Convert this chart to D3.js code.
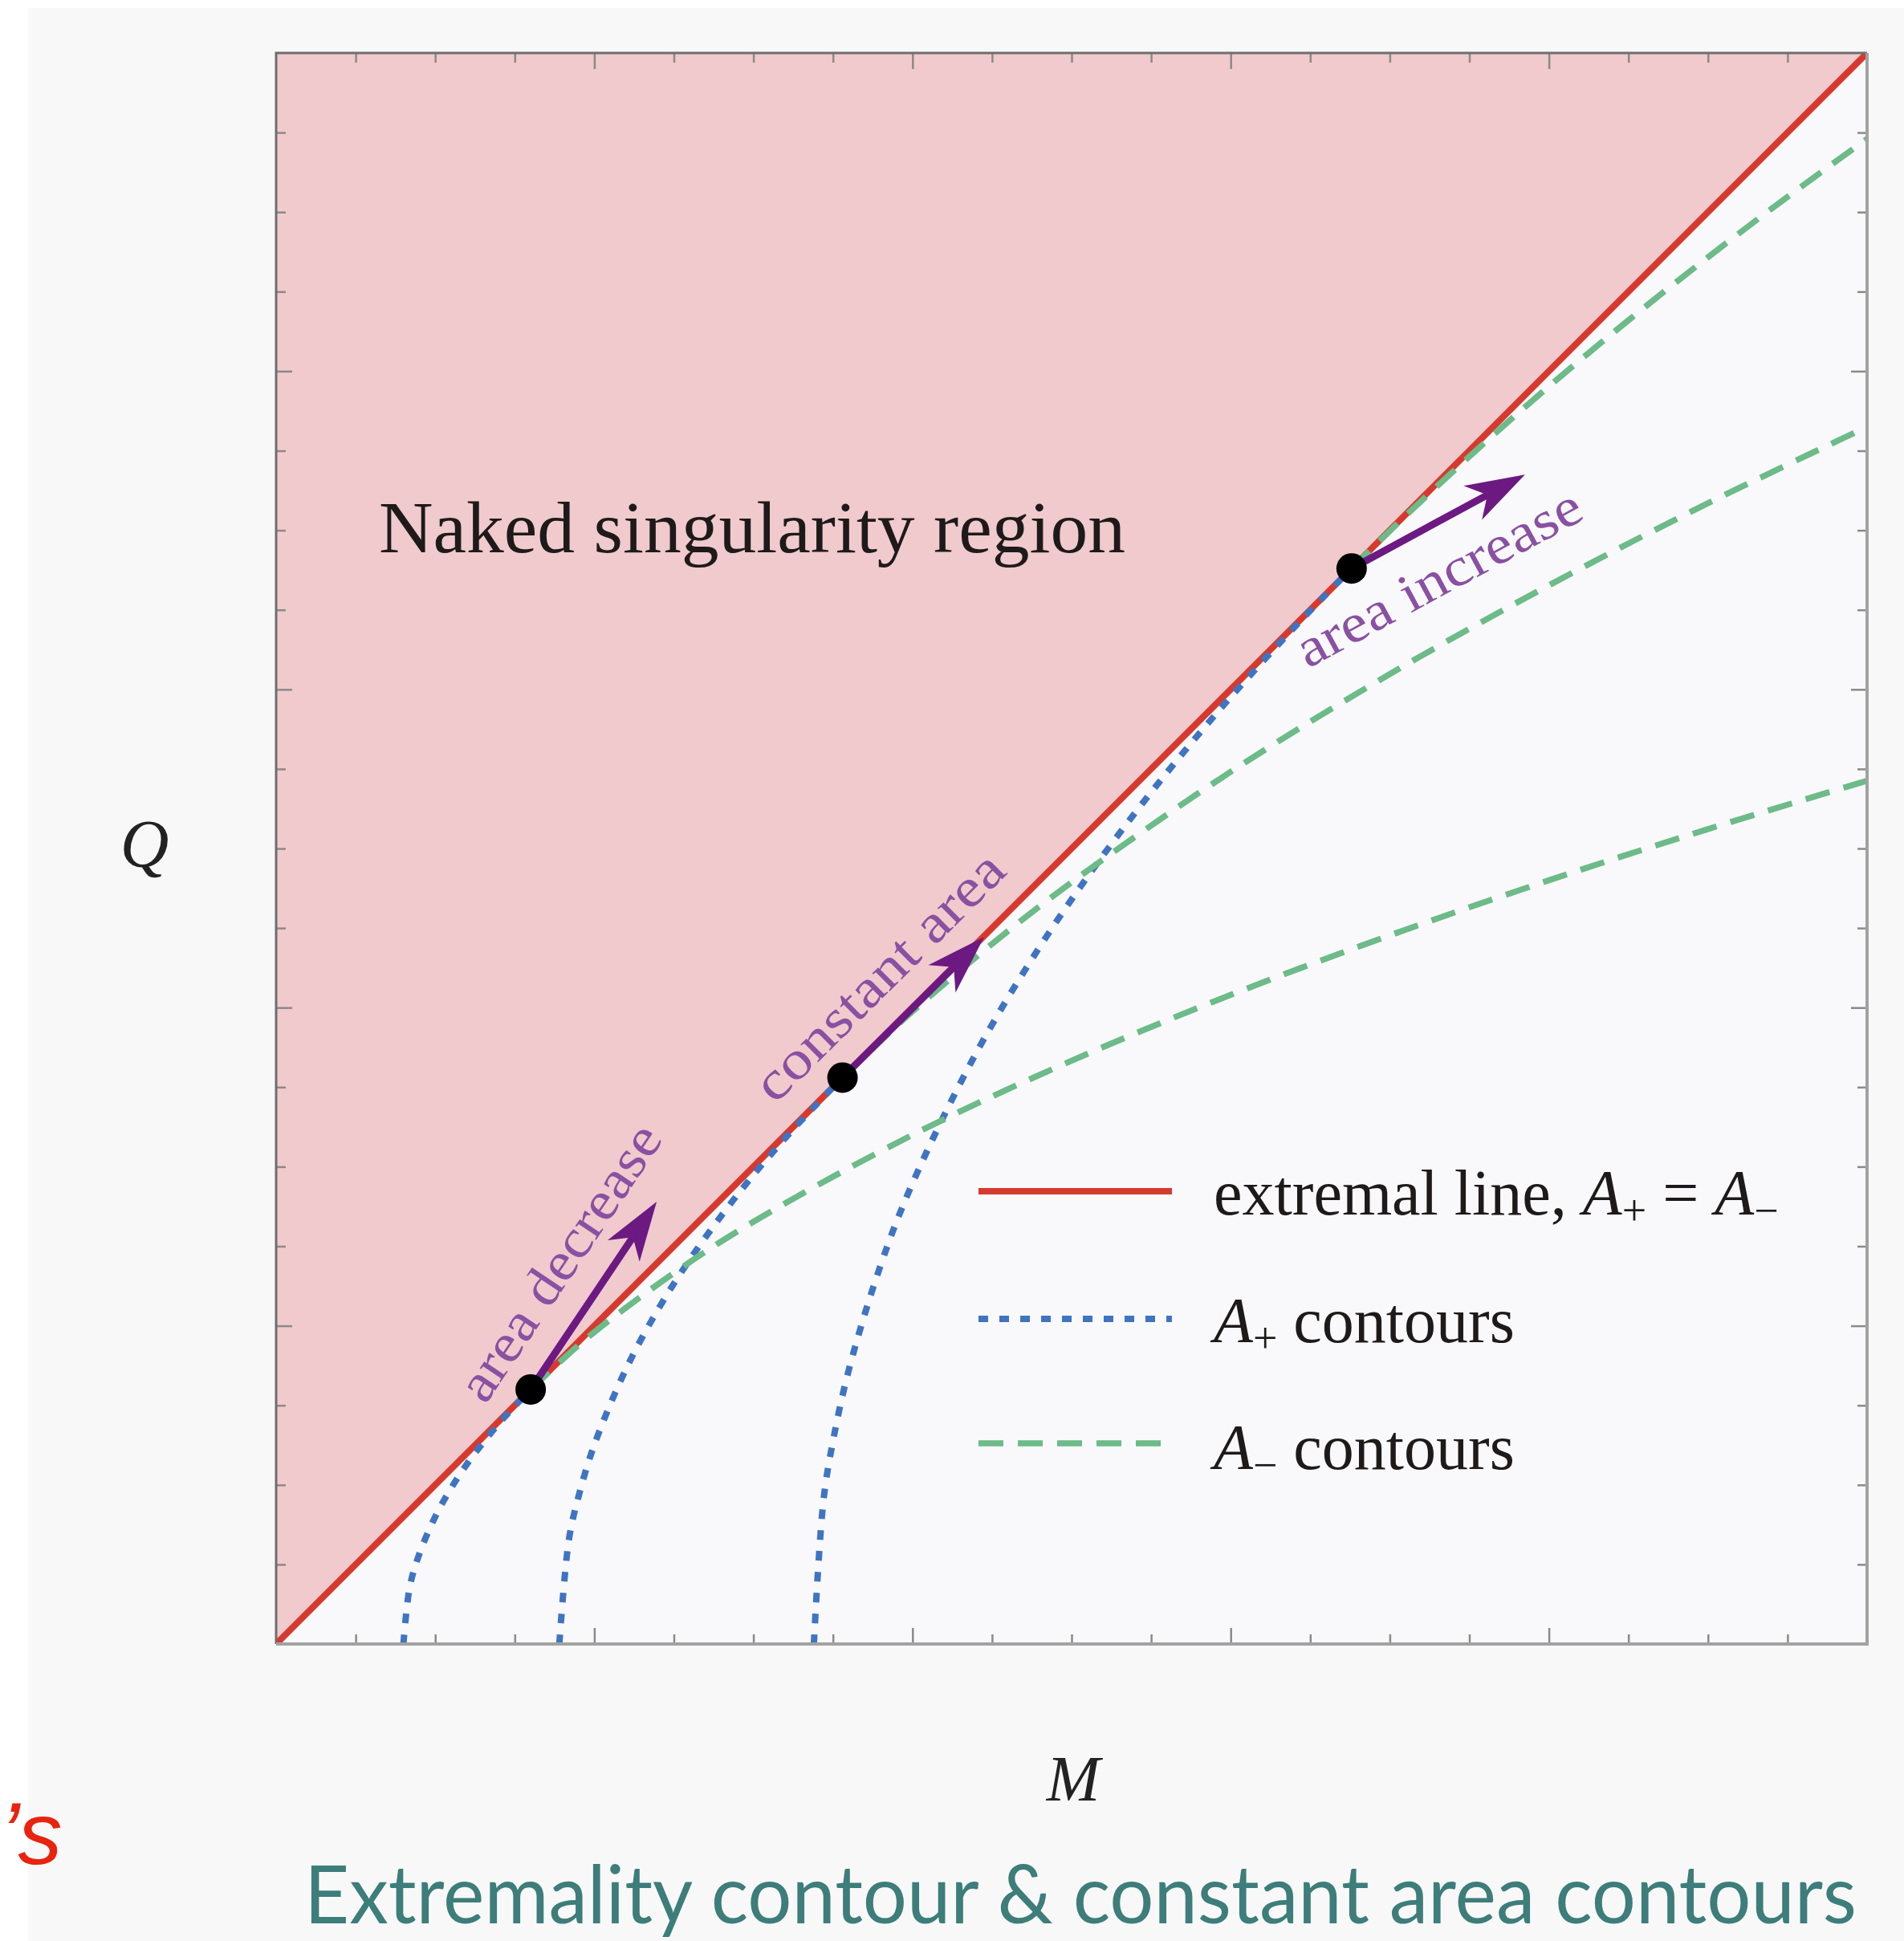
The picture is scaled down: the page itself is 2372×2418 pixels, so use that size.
<!DOCTYPE html>
<html>
<head>
<meta charset="utf-8">
<script src="https://cdn.jsdelivr.net/npm/d3@7"></script>
<style>
  body { margin: 0; background: #ffffff; }
</style>
</head>
<body>
<script>
// Data, (M, Q) in plot units
let extremal = [[0, 0], [5, 5]];

let aPlusContours = [
  [[0.400, 0], [0.420, 0.179], [0.450, 0.283], [0.500, 0.400], [0.550, 0.490], [0.600, 0.566],
   [0.650, 0.632], [0.700, 0.693], [0.750, 0.748], [0.800, 0.800]],
  [[0.890, 0], [0.920, 0.327], [0.950, 0.462], [1.000, 0.626], [1.100, 0.865], [1.200, 1.051],
   [1.300, 1.208], [1.400, 1.347], [1.500, 1.474], [1.600, 1.590], [1.700, 1.698], [1.780, 1.780]],
  [[1.690, 0], [1.720, 0.450], [1.750, 0.637], [1.800, 0.862], [1.900, 1.191], [2.000, 1.448],
   [2.200, 1.857], [2.400, 2.191], [2.600, 2.480], [2.800, 2.739], [3.000, 2.976], [3.200, 3.195],
   [3.300, 3.299], [3.380, 3.380]]
];

let aMinusContours = [
  [[0.800, 0.800], [0.900, 0.894], [1.000, 0.980], [1.250, 1.166], [1.500, 1.327], [2.000, 1.600],
   [2.500, 1.833], [3.000, 2.040], [3.500, 2.227], [4.000, 2.400], [4.500, 2.561], [5.000, 2.713]],
  [[1.780, 1.780], [1.900, 1.896], [2.000, 1.988], [2.250, 2.200], [2.500, 2.394], [3.000, 2.741],
   [3.500, 3.048], [4.000, 3.327], [4.500, 3.585], [5.000, 3.825]],
  [[3.380, 3.380], [3.500, 3.498], [3.600, 3.593], [3.800, 3.777], [4.000, 3.952], [4.250, 4.160],
   [4.500, 4.358], [4.750, 4.548], [5.000, 4.730]]
];

let dotM = [0.80, 1.78, 3.38];
let dotQ = [0.80, 1.78, 3.38];
let tipM = [1.196, 2.225, 3.925];
let tipQ = [1.390, 2.222, 3.675];
let arrowLabels = ["area decrease", "constant area", "area increase"];

let majorTicks = [1, 2, 3, 4];
let minorTicks = [0.25, 0.5, 0.75, 1.25, 1.5, 1.75, 2.25, 2.5, 2.75, 3.25, 3.5, 3.75, 4.25, 4.5, 4.75];

// Stage
let width = 2372;
let height = 2418;

let svg = d3.select("body")
            .append("svg")
            .attr("width", width)
            .attr("height", height);

// Colours
let page_color = "#f8f8f8";
let plot_bg_color = "#f9f9fb";
let naked_color = "#f0cacd";
let red_color = "#d63a2e";
let blue_color = "#3f74c2";
let green_color = "#6cbb88";
let arrow_color = "#6c1a82";
let label_color = "#8a50a2";
let frame_dark = "#6e6e6e";
let frame_light = "#a2a2a2";
let serif = "'Liberation Serif', 'DejaVu Serif', serif";

let blue_dash = "12,14";
let green_dash = "31,18";

svg.append("rect")
   .attr("x", 35).attr("y", 10)
   .attr("width", width - 35).attr("height", height - 10)
   .attr("fill", page_color);

// Scales
let plotLeft = 344, plotRight = 2326, plotTop = 66, plotBottom = 2048;
let x = d3.scaleLinear().domain([0, 5]).range([plotLeft, plotRight]);
let y = d3.scaleLinear().domain([0, 5]).range([plotBottom, plotTop]);

svg.append("defs").append("clipPath")
   .attr("id", "plotclip")
   .append("rect")
   .attr("x", plotLeft).attr("y", plotTop)
   .attr("width", plotRight - plotLeft).attr("height", plotBottom - plotTop);

let plot = svg.append("g").attr("clip-path", "url(#plotclip)");

plot.append("rect")
    .attr("x", plotLeft).attr("y", plotTop)
    .attr("width", plotRight - plotLeft).attr("height", plotBottom - plotTop)
    .attr("fill", plot_bg_color);

// Naked singularity region (above Q = M)
let area = d3.area()
             .x(d => x(d[0]))
             .y0(y(5))
             .y1(d => y(d[1]));

plot.append("path")
    .datum(extremal)
    .attr("d", area)
    .attr("fill", naked_color);

let line = d3.line()
             .x(d => x(d[0]))
             .y(d => y(d[1]))
             .curve(d3.curveCatmullRom.alpha(0.5));

plot.append("path")
    .datum(extremal)
    .attr("d", d3.line().x(d => x(d[0])).y(d => y(d[1])))
    .attr("fill", "none")
    .attr("stroke", red_color)
    .attr("stroke-width", 8);

plot.selectAll(".aplus")
    .data(aPlusContours)
    .enter().append("path")
    .attr("class", "aplus")
    .attr("d", line)
    .attr("fill", "none")
    .attr("stroke", blue_color)
    .attr("stroke-width", 8)
    .attr("stroke-dasharray", blue_dash);

plot.selectAll(".aminus")
    .data(aMinusContours)
    .enter().append("path")
    .attr("class", "aminus")
    .attr("d", line)
    .attr("fill", "none")
    .attr("stroke", green_color)
    .attr("stroke-width", 7.5)
    .attr("stroke-dasharray", green_dash);

// Frame + ticks
function ticksOn(axisFn, pos, values, len) {
  let g = svg.append("g")
             .attr("transform", pos)
             .call(axisFn.tickValues(values).tickSize(-len).tickFormat(""));
  g.select(".domain").remove();
  g.selectAll(".tick line").attr("stroke", "#8a8a8a").attr("stroke-width", 2.5);
}
ticksOn(d3.axisBottom(x), "translate(0," + plotBottom + ")", minorTicks, 12);
ticksOn(d3.axisBottom(x), "translate(0," + plotBottom + ")", majorTicks, 20);
ticksOn(d3.axisTop(x), "translate(0," + plotTop + ")", minorTicks, 12);
ticksOn(d3.axisTop(x), "translate(0," + plotTop + ")", majorTicks, 20);
ticksOn(d3.axisLeft(y), "translate(" + plotLeft + ",0)", minorTicks, 12);
ticksOn(d3.axisLeft(y), "translate(" + plotLeft + ",0)", majorTicks, 20);
ticksOn(d3.axisRight(y), "translate(" + plotRight + ",0)", minorTicks, 12);
ticksOn(d3.axisRight(y), "translate(" + plotRight + ",0)", majorTicks, 20);

svg.append("path")
   .attr("d", "M" + plotLeft + "," + plotBottom + "V" + plotTop + "H" + plotRight)
   .attr("fill", "none").attr("stroke", frame_dark).attr("stroke-width", 3);
svg.append("path")
   .attr("d", "M" + plotRight + "," + plotTop + "V" + plotBottom + "H" + plotLeft)
   .attr("fill", "none").attr("stroke", frame_light).attr("stroke-width", 4);

// Arrows, dots and their labels
let headLen = 74, headW = 48;
let labelOffset = [
  {perp: -36, along: 11},
  {perp: -35, along: -3},
  {perp: 84, along: -33}
];
let labelLength = [400, 410, 395];

dotM.forEach(function(m, i) {
  let x0 = x(m), y0 = y(dotQ[i]);
  let x1 = x(tipM[i]), y1 = y(tipQ[i]);
  let dx = x1 - x0, dy = y1 - y0;
  let len = Math.sqrt(dx * dx + dy * dy);
  let ux = dx / len, uy = dy / len;
  let px = -uy, py = ux;
  let notch = 0.72 * headLen;

  svg.append("line")
     .attr("x1", x0).attr("y1", y0)
     .attr("x2", x1 - ux * notch).attr("y2", y1 - uy * notch)
     .attr("stroke", arrow_color)
     .attr("stroke-width", 9);

  let head = [
    [x1, y1],
    [x1 - ux * headLen + px * headW / 2, y1 - uy * headLen + py * headW / 2],
    [x1 - ux * notch, y1 - uy * notch],
    [x1 - ux * headLen - px * headW / 2, y1 - uy * headLen - py * headW / 2]
  ];
  svg.append("path")
     .attr("d", "M" + head.map(p => p.join(",")).join("L") + "Z")
     .attr("fill", arrow_color);

  svg.append("circle")
     .attr("cx", x0).attr("cy", y0)
     .attr("r", 19)
     .attr("fill", "#000");

  let angle = Math.atan2(dy, dx) * 180 / Math.PI;
  let mx = (x0 + x1) / 2, my = (y0 + y1) / 2;
  svg.append("text")
     .attr("transform", "translate(" + mx + "," + my + ") rotate(" + angle + ")")
     .attr("x", labelOffset[i].along)
     .attr("y", labelOffset[i].perp)
     .attr("text-anchor", "middle")
     .attr("font-family", serif)
     .attr("font-size", 68)
     .attr("fill", label_color)
     .attr("textLength", labelLength[i])
     .attr("lengthAdjust", "spacingAndGlyphs")
     .text(arrowLabels[i]);
});

// Region label
svg.append("text")
   .attr("x", 472).attr("y", 688)
   .attr("font-family", serif)
   .attr("font-size", 92)
   .attr("fill", "#1e1a1a")
   .attr("textLength", 930)
   .attr("lengthAdjust", "spacingAndGlyphs")
   .text("Naked singularity region");

// Legend
let legendY = [1484, 1643, 1798];
let legendStyle = [
  {color: red_color, dash: null, w: 8},
  {color: blue_color, dash: blue_dash, w: 8},
  {color: green_color, dash: green_dash, w: 7.5}
];
legendY.forEach(function(ly, i) {
  svg.append("line")
     .attr("x1", 1219).attr("x2", 1460)
     .attr("y1", ly).attr("y2", ly)
     .attr("stroke", legendStyle[i].color)
     .attr("stroke-width", legendStyle[i].w)
     .attr("stroke-dasharray", legendStyle[i].dash);
});

function legendText(yb, parts) {
  let t = svg.append("text")
             .attr("x", 1512).attr("y", yb)
             .attr("font-family", serif)
             .attr("font-size", 80)
             .attr("fill", "#1e1a1a");
  parts.forEach(function(p) {
    let s = t.append("tspan").text(p.t);
    if (p.i) s.attr("font-style", "italic");
    if (p.sub) s.attr("font-size", 54).attr("dy", 13);
    if (p.up) s.attr("dy", -13);
  });
}
legendText(1513, [
  {t: "extremal line, "}, {t: "A", i: true}, {t: "+", sub: true},
  {t: " = ", up: true}, {t: "A", i: true}, {t: "\u2212", sub: true}
]);
legendText(1672, [{t: "A", i: true}, {t: "+", sub: true}, {t: " contours", up: true}]);
legendText(1830, [{t: "A", i: true}, {t: "\u2212", sub: true}, {t: " contours", up: true}]);

// Axis labels
svg.append("text")
   .attr("x", 180).attr("y", 1080)
   .attr("text-anchor", "middle")
   .attr("font-family", serif).attr("font-style", "italic")
   .attr("font-size", 84).attr("fill", "#222")
   .text("Q");

svg.append("text")
   .attr("x", 1337).attr("y", 2243)
   .attr("text-anchor", "middle")
   .attr("font-family", serif).attr("font-style", "italic")
   .attr("font-size", 80).attr("fill", "#222")
   .text("M");

// Slide caption
svg.append("text")
   .attr("x", 379).attr("y", 2396)
   .attr("font-family", "Lato, 'Open Sans', sans-serif")
   .attr("font-size", 100)
   .attr("fill", "#3d7d7a")
   .attr("textLength", 1934)
   .attr("lengthAdjust", "spacingAndGlyphs")
   .text("Extremality contour & constant area contours");

svg.append("text")
   .attr("x", 0).attr("y", 2322)
   .attr("font-family", "'Liberation Sans', Arial, sans-serif")
   .attr("font-style", "italic")
   .attr("font-size", 110)
   .attr("fill", "#e8230e")
   .text("\u2019s");
</script>
</body>
</html>
